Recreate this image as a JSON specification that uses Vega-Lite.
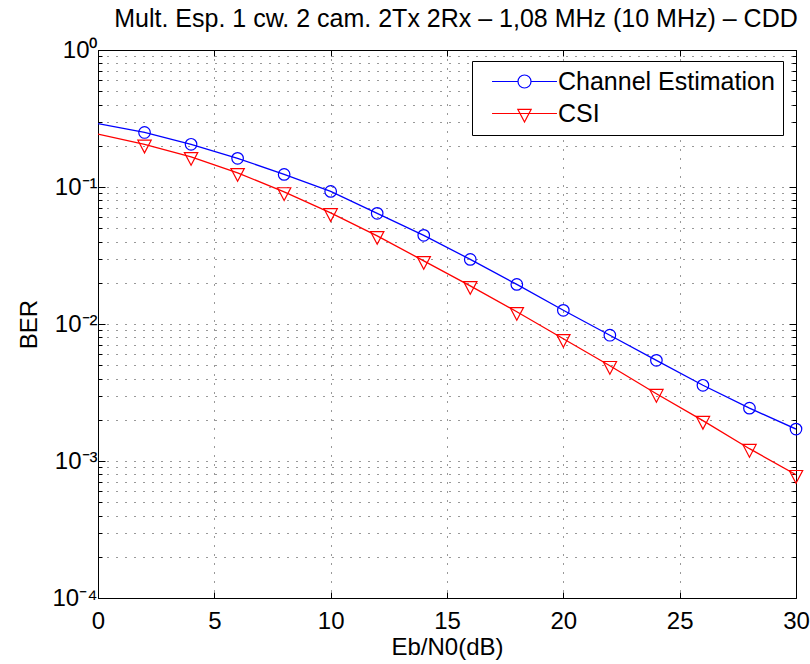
{
  "$schema": "https://vega.github.io/schema/vega-lite/v6.json",
  "width": 698,
  "height": 548,
  "autosize": {"type": "none"},
  "padding": {"left": 98, "top": 50, "right": 14, "bottom": 66},
  "config": {
    "font": "Liberation Sans",
    "view": {"stroke": "black", "strokeWidth": 1},
    "axis": {
      "labelFont": "Liberation Sans",
      "labelFontSize": 24,
      "labelColor": "black",
      "titleFont": "Liberation Sans",
      "titleFontSize": 24,
      "titleFontWeight": "normal",
      "titleColor": "black",
      "domainColor": "black",
      "tickColor": "black",
      "gridColor": "black",
      "gridOpacity": 0.8,
      "gridDash": [1, 8],
      "gridWidth": 1
    }
  },
  "title": {
    "text": "Mult. Esp. 1 cw. 2 cam. 2Tx 2Rx – 1,08 MHz (10 MHz) – CDD",
    "fontSize": 25,
    "fontWeight": "normal",
    "font": "Liberation Sans",
    "color": "black",
    "anchor": "middle",
    "offset": 6,
    "dx": 9
  },
  "data": {
    "values": [
      {"snr": 0, "ber": 0.290, "series": "Channel Estimation"},
      {"snr": 2, "ber": 0.250, "series": "Channel Estimation"},
      {"snr": 4, "ber": 0.205, "series": "Channel Estimation"},
      {"snr": 6, "ber": 0.162, "series": "Channel Estimation"},
      {"snr": 8, "ber": 0.1236, "series": "Channel Estimation"},
      {"snr": 10, "ber": 0.0929, "series": "Channel Estimation"},
      {"snr": 12, "ber": 0.0642, "series": "Channel Estimation"},
      {"snr": 14, "ber": 0.0444, "series": "Channel Estimation"},
      {"snr": 16, "ber": 0.0296, "series": "Channel Estimation"},
      {"snr": 18, "ber": 0.01945, "series": "Channel Estimation"},
      {"snr": 20, "ber": 0.01259, "series": "Channel Estimation"},
      {"snr": 22, "ber": 0.00828, "series": "Channel Estimation"},
      {"snr": 24, "ber": 0.00543, "series": "Channel Estimation"},
      {"snr": 26, "ber": 0.00357, "series": "Channel Estimation"},
      {"snr": 28, "ber": 0.00243, "series": "Channel Estimation"},
      {"snr": 30, "ber": 0.00171, "series": "Channel Estimation"},
      {"snr": 0, "ber": 0.243, "series": "CSI"},
      {"snr": 2, "ber": 0.2046, "series": "CSI"},
      {"snr": 4, "ber": 0.166, "series": "CSI"},
      {"snr": 6, "ber": 0.127, "series": "CSI"},
      {"snr": 8, "ber": 0.092, "series": "CSI"},
      {"snr": 10, "ber": 0.0647, "series": "CSI"},
      {"snr": 12, "ber": 0.0440, "series": "CSI"},
      {"snr": 14, "ber": 0.0289, "series": "CSI"},
      {"snr": 16, "ber": 0.0190, "series": "CSI"},
      {"snr": 18, "ber": 0.01228, "series": "CSI"},
      {"snr": 20, "ber": 0.00780, "series": "CSI"},
      {"snr": 22, "ber": 0.00496, "series": "CSI"},
      {"snr": 24, "ber": 0.00310, "series": "CSI"},
      {"snr": 26, "ber": 0.00197, "series": "CSI"},
      {"snr": 28, "ber": 0.00123, "series": "CSI"},
      {"snr": 30, "ber": 0.000794, "series": "CSI"}
    ]
  },
  "resolve": {"axis": {"x": "independent", "y": "independent"}},
  "layer": [
    {
      "mark": {"type": "line", "strokeWidth": 1.3, "clip": true},
      "encoding": {
        "x": {
          "field": "snr",
          "type": "quantitative",
          "scale": {"domain": [0, 30], "nice": false, "zero": false},
          "axis": {
            "title": "Eb/N0(dB)",
            "values": [0, 5, 10, 15, 20, 25, 30],
            "grid": true,
            "tickSize": -6,
            "labelPadding": 17,
            "labelFlush": false,
            "titlePadding": 2,
            "domain": false
          }
        },
        "y": {
          "field": "ber",
          "type": "quantitative",
          "scale": {"type": "log", "domain": [0.0001, 1], "nice": false},
          "axis": {
            "title": "BER",
            "titlePadding": 10,
            "grid": true,
            "values": [0.0001, 0.0002, 0.0003, 0.0004, 0.0005, 0.0006, 0.0007, 0.0008, 0.0009, 0.001, 0.002, 0.003, 0.004, 0.005, 0.006, 0.007, 0.008, 0.009, 0.01, 0.02, 0.03, 0.04, 0.05, 0.06, 0.07, 0.08, 0.09, 0.1, 0.2, 0.3, 0.4, 0.5, 0.6, 0.7, 0.8, 0.9, 1],
            "labelExpr": "datum.value == 1 ? '10⁰' : datum.value == 0.1 ? '10⁻¹' : datum.value == 0.01 ? '10⁻²' : datum.value == 0.001 ? '10⁻³' : datum.value == 0.0001 ? '10⁻⁴' : ''",
            "labelOverlap": false,
            "labelFlush": false,
            "labelPadding": 8,
            "tickSize": {"condition": {"test": "indexof([1, 0.1, 0.01, 0.001, 0.0001], datum.value) >= 0", "value": -7}, "value": -4},
            "domain": false
          }
        },
        "color": {
          "field": "series",
          "type": "nominal",
          "scale": {"domain": ["Channel Estimation", "CSI"], "range": ["#0000ff", "#ff0000"]},
          "legend": {
            "title": null,
            "orient": "none",
            "legendX": 374,
            "legendY": 11,
            "strokeColor": "black",
            "fillColor": "white",
            "padding": 8,
            "labelFont": "Liberation Sans",
            "labelFontSize": 25,
            "labelColor": "black",
            "labelLimit": 400,
            "symbolSize": 133,
            "symbolStrokeWidth": 1.2,
            "symbolOffset": 32,
            "labelOffset": 21,
            "rowPadding": 6,
            "encode": {
              "symbols": {
                "update": {
                  "shape": {"signal": "datum.value == 'CSI' ? 'M-5.63,0H5.63M-1.16,-0.73L1.16,-0.73L0,1.47Z' : 'M-5.63,0H-1.13A1.13,1.13,0,1,1,1.13,0A1.13,1.13,0,1,1,-1.13,0M1.13,0H5.63'"},
                  "stroke": {"signal": "datum.value == 'CSI' ? '#ff0000' : '#0000ff'"},
                  "fill": {"value": "transparent"}
                }
              }
            }
          }
        }
      }
    },
    {
      "transform": [{"filter": "datum.snr > 0 && datum.series == 'Channel Estimation'"}],
      "mark": {"type": "point", "shape": "circle", "filled": false, "size": 133, "strokeWidth": 1.2, "opacity": 1, "clip": false},
      "encoding": {
        "x": {"field": "snr", "type": "quantitative", "axis": null},
        "y": {"field": "ber", "type": "quantitative", "axis": null},
        "color": {"field": "series", "type": "nominal"}
      }
    },
    {
      "transform": [{"filter": "datum.snr > 0 && datum.series == 'CSI'"}],
      "mark": {"type": "point", "shape": "M-1.16,-0.73L1.16,-0.73L0,1.47Z", "filled": false, "size": 133, "strokeWidth": 1.2, "opacity": 1, "clip": false},
      "encoding": {
        "x": {"field": "snr", "type": "quantitative", "axis": null},
        "y": {"field": "ber", "type": "quantitative", "axis": null},
        "color": {"field": "series", "type": "nominal"}
      }
    },
    {
      "mark": {"type": "point", "opacity": 0},
      "encoding": {
        "x": {
          "field": "snr",
          "type": "quantitative",
          "axis": {"orient": "top", "title": null, "labels": false, "grid": false, "domain": false, "values": [0, 5, 10, 15, 20, 25, 30], "tickSize": -6}
        },
        "y": {
          "field": "ber",
          "type": "quantitative",
          "axis": {
            "orient": "right",
            "title": null,
            "labels": false,
            "grid": false,
            "domain": false,
            "values": [0.0001, 0.0002, 0.0003, 0.0004, 0.0005, 0.0006, 0.0007, 0.0008, 0.0009, 0.001, 0.002, 0.003, 0.004, 0.005, 0.006, 0.007, 0.008, 0.009, 0.01, 0.02, 0.03, 0.04, 0.05, 0.06, 0.07, 0.08, 0.09, 0.1, 0.2, 0.3, 0.4, 0.5, 0.6, 0.7, 0.8, 0.9, 1],
            "tickSize": {"condition": {"test": "indexof([1, 0.1, 0.01, 0.001, 0.0001], datum.value) >= 0", "value": -7}, "value": -4}
          }
        }
      }
    }
  ]
}
